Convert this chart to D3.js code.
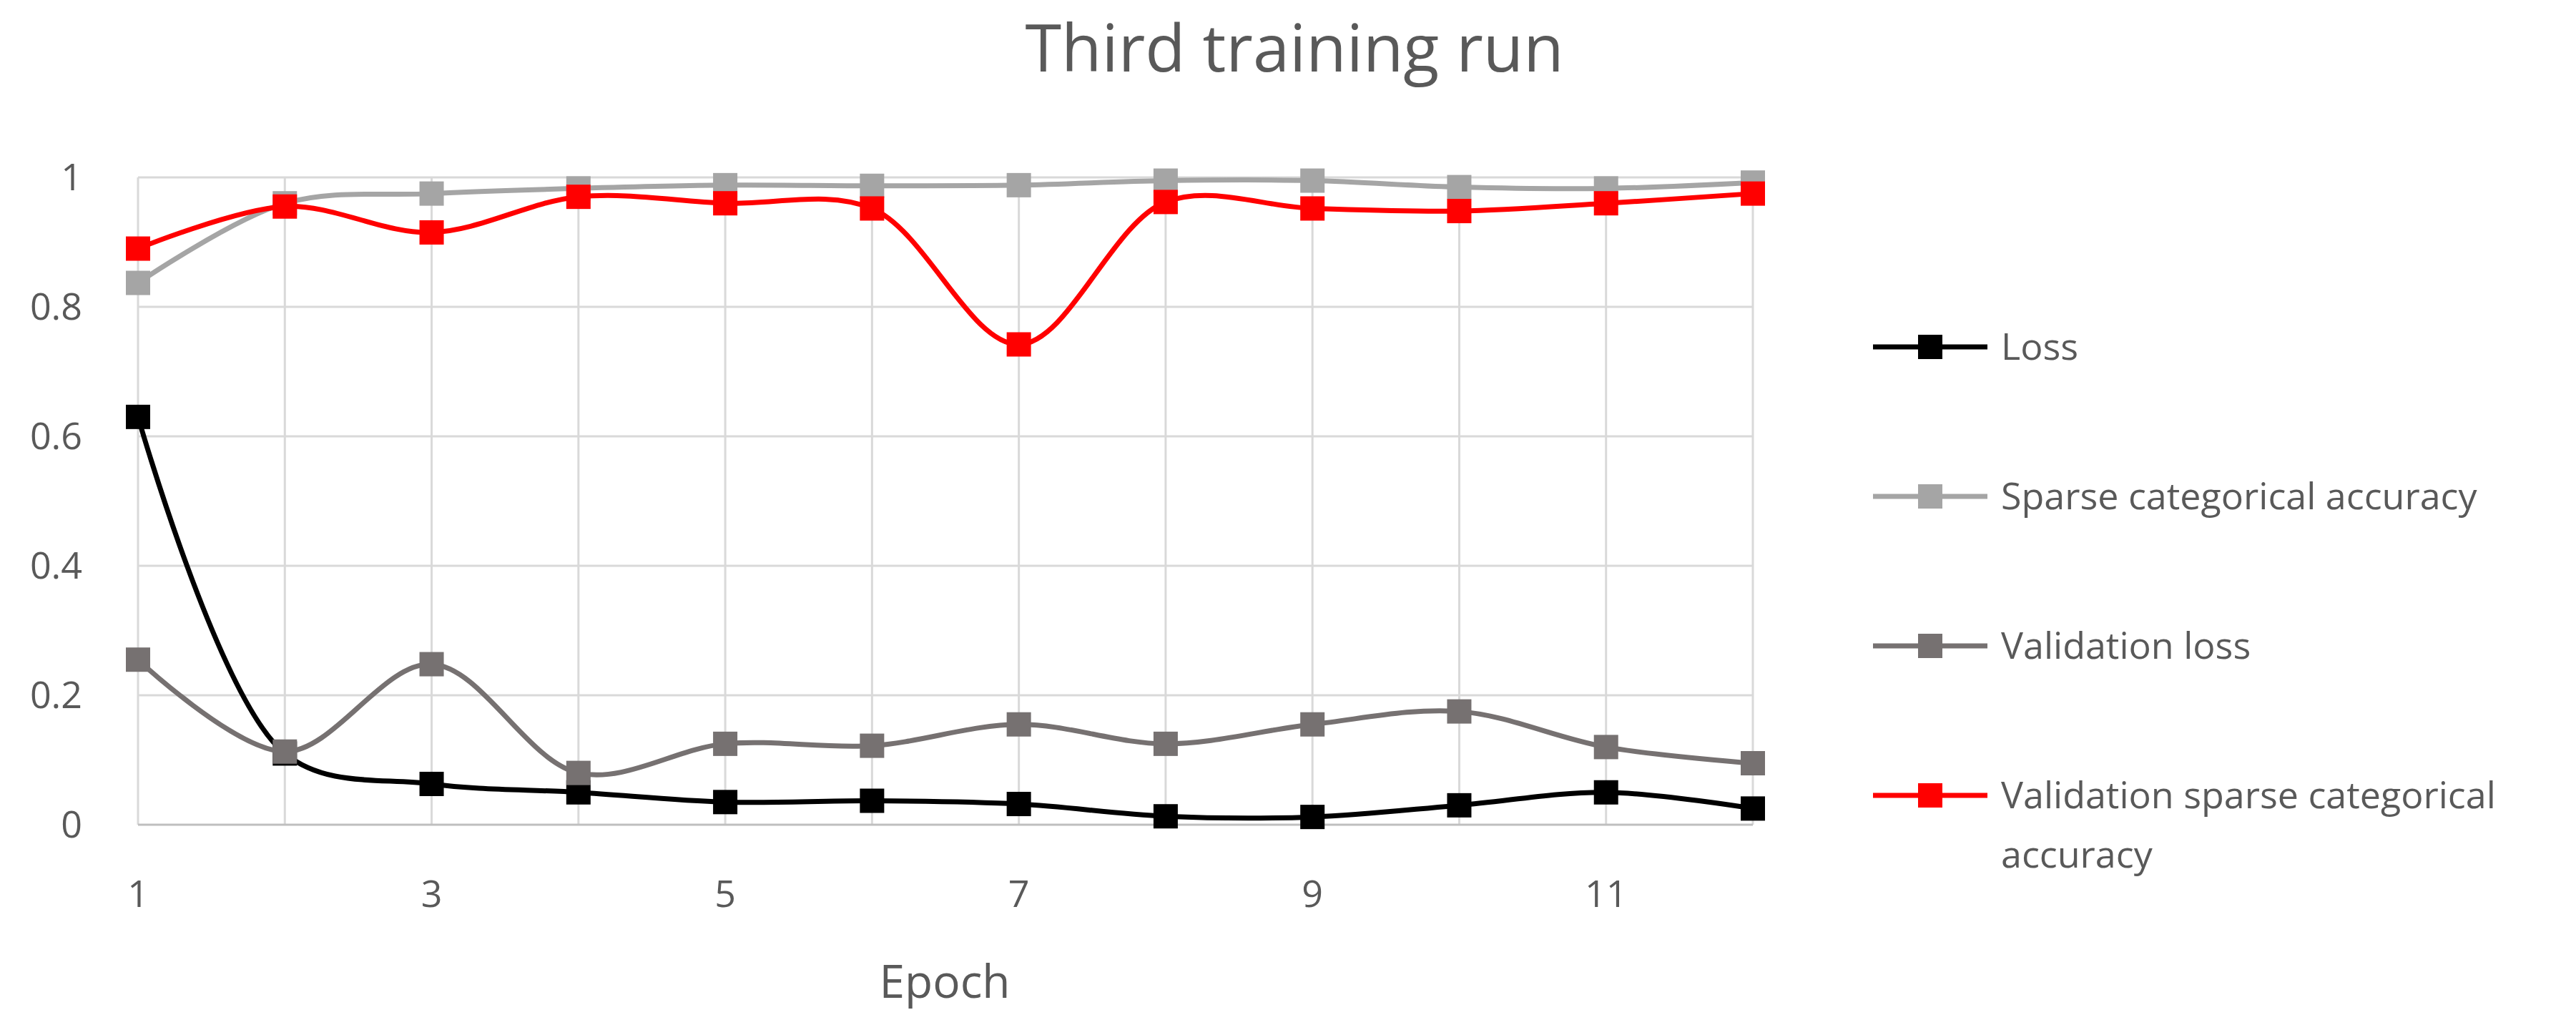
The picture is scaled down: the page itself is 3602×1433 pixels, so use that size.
<!DOCTYPE html>
<html><head><meta charset="utf-8">
<script src="https://cdn.jsdelivr.net/npm/d3@7"></script>
<style>body{margin:0;background:#fff}text{font-family:"Open Sans",sans-serif;fill:#595959}</style>
</head><body>
<svg id="c" width="3602" height="1433"></svg>
<script>
var epochs = [1,2,3,4,5,6,7,8,9,10,11,12];
var loss = [0.63,0.11,0.063,0.05,0.035,0.037,0.032,0.013,0.012,0.03,0.05,0.025];
var sparseAcc = [0.837,0.96,0.975,0.983,0.988,0.987,0.988,0.995,0.995,0.985,0.983,0.992];
var valLoss = [0.255,0.113,0.248,0.08,0.125,0.122,0.155,0.125,0.155,0.175,0.12,0.095];
var valAcc = [0.89,0.955,0.915,0.97,0.96,0.952,0.742,0.962,0.952,0.948,0.96,0.975];
var yTicks = [0,0.2,0.4,0.6,0.8,1];
var xTickLabels = [1,3,5,7,9,11];

var series = [
  {name:["Loss"], values:loss, color:"#000000"},
  {name:["Sparse categorical accuracy"], values:sparseAcc, color:"#a5a5a5"},
  {name:["Validation loss"], values:valLoss, color:"#767171"},
  {name:["Validation sparse categorical","accuracy"], values:valAcc, color:"#ff0000"}
];

var svg = d3.select("#c");
var x = d3.scaleLinear().domain([1,12]).range([193,2451]);
var y = d3.scaleLinear().domain([0,1]).range([1153,248]);

svg.append("text").attr("x",1810).attr("y",100).attr("text-anchor","middle")
  .style("font-size","92px").text("Third training run");

// grid
svg.selectAll(".vg").data(epochs).enter().append("line")
  .attr("x1",d=>x(d)).attr("x2",d=>x(d)).attr("y1",y(1)).attr("y2",y(0))
  .attr("stroke","#d9d9d9").attr("stroke-width",3);
svg.selectAll(".hg").data(yTicks).enter().append("line")
  .attr("x1",x(1)).attr("x2",x(12)).attr("y1",d=>y(d)).attr("y2",d=>y(d))
  .attr("stroke",d=>d===0?"#bfbfbf":"#d9d9d9").attr("stroke-width",3);

// axis labels
svg.selectAll(".yl").data(yTicks).enter().append("text")
  .attr("x",115).attr("y",d=>y(d)+18).attr("text-anchor","end")
  .style("font-size","52px").text(d=>d);
svg.selectAll(".xl").data(xTickLabels).enter().append("text")
  .attr("x",d=>x(d)).attr("y",1268).attr("text-anchor","middle")
  .style("font-size","52px").text(d=>d);
svg.append("text").attr("x",1321).attr("y",1395).attr("text-anchor","middle")
  .style("font-size","64px").text("Epoch");

var line = d3.line().x((d,i)=>x(epochs[i])).y(d=>y(d)).curve(d3.curveCatmullRom.alpha(0.5));
var ms = 34;
series.forEach(function(s, k){
  var g = svg.append("g");
  g.append("path").attr("d",line(s.values)).attr("fill","none")
    .attr("stroke",s.color).attr("stroke-width",7);
  g.selectAll("rect").data(s.values).enter().append("rect")
    .attr("x",(d,i)=>x(epochs[i])-ms/2).attr("y",d=>y(d)-ms/2)
    .attr("width",ms).attr("height",ms).attr("fill",s.color);
  // legend
  var ly = 485 + k*209;
  g.append("line").attr("x1",2619).attr("x2",2779).attr("y1",ly).attr("y2",ly)
    .attr("stroke",s.color).attr("stroke-width",7);
  g.append("rect").attr("x",2699-ms/2).attr("y",ly-ms/2).attr("width",ms).attr("height",ms).attr("fill",s.color);
  s.name.forEach(function(t,j){
    g.append("text").attr("x",2798).attr("y",ly+18+j*83).style("font-size","52px").text(t);
  });
});
</script>
</body></html>
